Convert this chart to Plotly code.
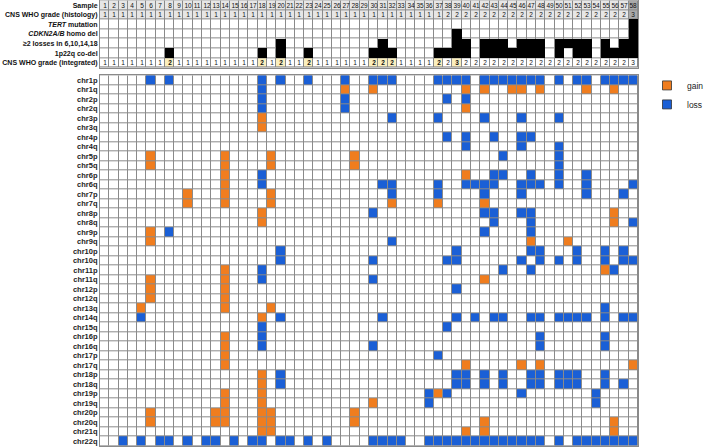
import plotly.graph_objects as go

# ---------------- data ----------------
samples = list(range(1, 59))

header_labels = [
    "<b>Sample</b>",
    "<b>CNS WHO grade (histology)</b>",
    "<b><i>TERT</i> mutation</b>",
    "<b><i>CDKN2A/B</i> homo del</b>",
    "<b>≥2 losses in 6,10,14,18</b>",
    "<b>1p22q co-del</b>",
    "<b>CNS WHO grade (integrated)</b>",
]

hist_grade = [1, 1, 1, 1, 1, 1, 1, 1, 1, 1,
              1, 1, 1, 1, 1, 1, 1, 1, 1, 1,
              1, 1, 1, 1, 1, 1, 1, 1, 1, 1,
              1, 1, 1, 1, 1, 1, 1, 2, 2, 2,
              2, 2, 2, 2, 2, 2, 2, 2, 2, 2,
              2, 2, 2, 2, 2, 2, 2, 3]

integ_grade = [1, 1, 1, 1, 1, 1, 1, 2, 1, 1,
               1, 1, 1, 1, 1, 1, 1, 2, 1, 2,
               1, 1, 2, 1, 1, 1, 1, 1, 1, 2,
               2, 2, 1, 1, 1, 1, 2, 2, 3, 2,
               2, 2, 2, 2, 2, 2, 2, 2, 2, 2,
               2, 2, 2, 2, 2, 2, 2, 3]

tert_mutation = [58]
cdkn2ab_homdel = [39, 58]
multi_losses = [20, 31, 39, 40, 42, 43, 44, 46, 47, 48, 50, 51, 52, 53, 55, 57, 58]
codel_1p22q = [8, 18, 20, 23, 30, 31, 32, 37, 38, 39, 40, 42, 43, 44, 45, 46, 47,
               48, 50, 52, 53, 55, 56, 57, 58]

arms = ["chr1p", "chr1q", "chr2p", "chr2q", "chr3p", "chr3q", "chr4p", "chr4q",
        "chr5p", "chr5q", "chr6p", "chr6q", "chr7p", "chr7q", "chr8p", "chr8q",
        "chr9p", "chr9q", "chr10p", "chr10q", "chr11p", "chr11q", "chr12p", "chr12q",
        "chr13q", "chr14q", "chr15q", "chr16p", "chr16q", "chr17p", "chr17q",
        "chr18p", "chr18q", "chr19p", "chr19q", "chr20p", "chr20q", "chr21q", "chr22q"]

gain_samples = {
    "chr1q": [27, 30, 40, 42, 45, 46, 48, 53, 56],
    "chr2q": [40],
    "chr3p": [18],
    "chr3q": [18],
    "chr5p": [6, 14, 19, 28],
    "chr5q": [6, 14, 19, 28],
    "chr6p": [14, 40],
    "chr6q": [14],
    "chr7p": [10, 14, 19],
    "chr7q": [10, 14, 19, 32, 37, 42],
    "chr8p": [18, 56],
    "chr8q": [18, 56],
    "chr9p": [6],
    "chr9q": [6, 47, 51],
    "chr11p": [14, 55],
    "chr11q": [6, 14, 42],
    "chr12p": [6, 14],
    "chr12q": [6, 14],
    "chr13q": [5, 14, 19],
    "chr14q": [18],
    "chr16p": [14],
    "chr16q": [14],
    "chr17p": [14],
    "chr17q": [14, 40, 46, 48, 58],
    "chr18p": [18],
    "chr18q": [18],
    "chr19p": [14, 18, 37],
    "chr19q": [14, 18, 30],
    "chr20p": [6, 13, 14, 18, 19, 28],
    "chr20q": [6, 13, 14, 18, 19, 28, 42, 56],
    "chr21q": [18, 19, 40, 42, 56],
}

loss_samples = {
    "chr1p": [6, 8, 18, 20, 23, 27, 30, 31, 32, 37, 38, 39, 40, 42, 43, 44, 45, 46,
              47, 48, 50, 52, 53, 55, 56, 57, 58],
    "chr1q": [18],
    "chr2p": [18, 27, 38, 40],
    "chr2q": [18, 27],
    "chr3p": [32, 37, 42, 46, 50],
    "chr4p": [38, 40, 43, 46, 47],
    "chr4q": [40, 46, 50],
    "chr5p": [44, 50],
    "chr5q": [50],
    "chr6p": [18, 43, 44, 47, 50, 53],
    "chr6q": [18, 31, 32, 37, 40, 41, 42, 43, 46, 47, 48, 50, 53, 58],
    "chr7p": [32, 37, 42, 46, 53, 57],
    "chr8p": [30, 42, 43, 46, 47],
    "chr8q": [43, 47, 58],
    "chr9p": [8, 42, 47],
    "chr9q": [32],
    "chr10p": [20, 39, 47, 48, 52, 55, 57],
    "chr10q": [20, 30, 38, 39, 46, 48, 50, 52, 55, 57, 58],
    "chr11p": [18, 44, 47, 56],
    "chr11q": [18, 30],
    "chr12p": [39],
    "chr13q": [55],
    "chr14q": [5, 20, 31, 39, 41, 43, 44, 47, 48, 50, 51, 52, 53, 55, 57, 58],
    "chr15q": [18, 38],
    "chr16p": [18, 48, 55],
    "chr16q": [18, 30, 48, 55],
    "chr17p": [37],
    "chr18p": [20, 39, 40, 42, 44, 47, 48, 50, 51, 52, 55],
    "chr18q": [20, 39, 40, 42, 44, 47, 48, 50, 51, 52, 55, 57],
    "chr19p": [36, 38, 46, 54],
    "chr19q": [36, 54],
    "chr22q": [3, 5, 7, 8, 10, 12, 13, 15, 17, 18, 20, 21, 23, 25, 30, 31, 32, 33,
               36, 37, 38, 39, 40, 41, 42, 43, 44, 45, 46, 47, 48, 50, 52, 53, 54,
               55, 56, 57, 58],
}

# ---------------- styling ----------------
WHITE, GAIN, LOSS, LGREY, DGREY, YELLOW = 0, 1, 2, 3, 4, 5
palette = ["#ffffff", "#f07d1e", "#1a5fd6", "#e6e6e6", "#a9a9a9", "#fbefbd"]
ncol = len(palette)
colorscale = []
for i, c in enumerate(palette):
    colorscale.append([i / ncol, c])
    colorscale.append([(i + 1) / ncol, c])
GRID = "#8a8a8a"
FONT = "Liberation Sans, Arial, sans-serif"

# ---------------- build matrices ----------------
n = len(samples)
main_z = []
for arm in arms:
    row = []
    for s in samples:
        if s in gain_samples.get(arm, []):
            row.append(GAIN)
        elif s in loss_samples.get(arm, []):
            row.append(LOSS)
        else:
            row.append(WHITE)
    main_z.append(row)

grey_row = [DGREY if g == 3 else LGREY for g in hist_grade]
integ_row = [YELLOW if ig != hg else WHITE for ig, hg in zip(integ_grade, hist_grade)]
head_z = [grey_row, grey_row, [WHITE] * n, [WHITE] * n, [WHITE] * n, [WHITE] * n, integ_row]
head_text = [
    [str(s) for s in samples],
    [str(g) for g in hist_grade],
    [""] * n, [""] * n, [""] * n, [""] * n,
    [("<b>%d</b>" % ig) if ig != hg else str(ig) for ig, hg in zip(integ_grade, hist_grade)],
]
black_sets = [[], [], tert_mutation, cdkn2ab_homdel, multi_losses, codel_1p22q, []]
black_z = [[1 if s in bs else None for s in samples] for bs in black_sets]

fig = go.Figure()
fig.add_trace(go.Heatmap(
    x=samples, y=list(range(len(arms))), z=main_z,
    zmin=-0.5, zmax=ncol - 0.5, colorscale=colorscale, showscale=False,
    xgap=1, ygap=1, hoverinfo="skip", xaxis="x", yaxis="y"))
fig.add_trace(go.Heatmap(
    x=samples, y=list(range(len(header_labels))), z=head_z,
    zmin=-0.5, zmax=ncol - 0.5, colorscale=colorscale, showscale=False,
    xgap=1, ygap=1, text=head_text, texttemplate="%{text}",
    textfont=dict(family=FONT, size=6.5, color="#111"),
    hoverinfo="skip", xaxis="x2", yaxis="y2"))
fig.add_trace(go.Heatmap(
    x=samples, y=list(range(len(header_labels))), z=black_z,
    zmin=0, zmax=1, colorscale=[[0, "#000"], [1, "#000"]], showscale=False,
    hoverinfo="skip", xaxis="x2", yaxis="y2"))

fig.add_trace(go.Scatter(x=[None], y=[None], mode="markers", name="gain",
                         marker=dict(symbol="square", size=9, color=palette[GAIN],
                                     line=dict(color="#333", width=0.8))))
fig.add_trace(go.Scatter(x=[None], y=[None], mode="markers", name="loss",
                         marker=dict(symbol="square", size=9, color=palette[LOSS],
                                     line=dict(color="#333", width=0.8))))

axis_common = dict(showgrid=False, zeroline=False, showline=True, mirror=True,
                   linecolor=GRID, linewidth=1)
fig.update_layout(
    width=709, height=448,
    margin=dict(l=100, r=45, t=0, b=0),
    paper_bgcolor="white", plot_bgcolor=GRID,
    font=dict(family=FONT, color="#111"),
    xaxis=dict(anchor="y", range=[0.5, 58.5], showticklabels=False, ticks="", **axis_common),
    xaxis2=dict(anchor="y2", matches="x", range=[0.5, 58.5], showticklabels=False, ticks="",
                **axis_common),
    yaxis=dict(domain=[0.0049, 0.8319], range=[len(arms) - 0.5, -0.5],
               tickvals=list(range(len(arms))), ticktext=["<b>%s</b>" % a for a in arms],
               tickfont=dict(family=FONT, size=7.5, color="#222"), ticks="", **axis_common),
    yaxis2=dict(domain=[0.8493, 0.9993], range=[len(header_labels) - 0.5, -0.5],
                tickvals=list(range(len(header_labels))), ticktext=header_labels,
                tickfont=dict(family=FONT, size=7, color="#111"), ticks="", **axis_common),
    showlegend=True,
    legend=dict(x=1.0174, y=0.8417, xanchor="left", yanchor="top",
                font=dict(family=FONT, size=8.5, color="#222"),
                itemwidth=30, tracegroupgap=0, bgcolor="rgba(0,0,0,0)"),
)

fig.write_html("out.html")
